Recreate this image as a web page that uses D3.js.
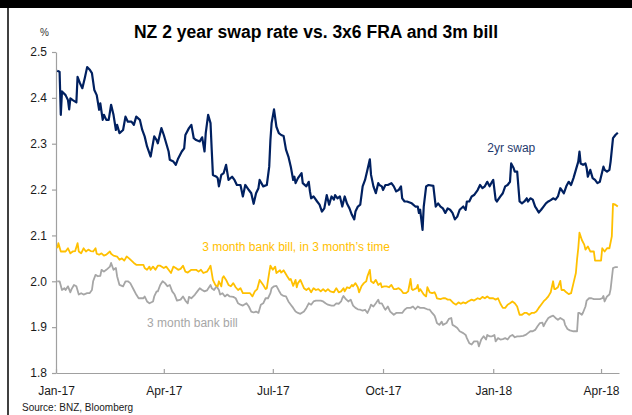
<!DOCTYPE html>
<html>
<head>
<meta charset="utf-8">
<script src="https://cdn.jsdelivr.net/npm/d3@7"></script>
<style>
  body { margin: 0; background: #fff; }
  svg { display: block; font-family: "Liberation Sans", Arial, sans-serif; }
</style>
</head>
<body>
<div id="chart"></div>
<script>
// 2 year swap rate
const swap = [
  ["2017-01-02",2.459],["2017-01-04",2.457],["2017-01-05",2.363],["2017-01-06",2.414],["2017-01-09",2.406],
  ["2017-01-11",2.395],["2017-01-12",2.375],["2017-01-13",2.399],["2017-01-15",2.395],["2017-01-18",2.390],
  ["2017-01-19",2.446],["2017-01-21",2.432],["2017-01-23",2.421],["2017-01-25",2.443],["2017-01-27",2.467],
  ["2017-01-29",2.462],["2017-01-31",2.454],["2017-02-02",2.417],["2017-02-04",2.406],["2017-02-06",2.374],
  ["2017-02-07",2.388],["2017-02-09",2.352],["2017-02-10",2.363],["2017-02-12",2.352],["2017-02-14",2.352],
  ["2017-02-16",2.385],["2017-02-18",2.363],["2017-02-20",2.330],["2017-02-21",2.341],["2017-02-23",2.323],
  ["2017-02-26",2.330],["2017-02-28",2.359],["2017-03-02",2.348],["2017-03-05",2.348],["2017-03-07",2.341],
  ["2017-03-09",2.359],["2017-03-12",2.352],["2017-03-14",2.330],["2017-03-16",2.316],["2017-03-18",2.294],
  ["2017-03-21",2.272],["2017-03-24",2.316],["2017-03-26",2.308],["2017-03-27",2.301],["2017-03-30",2.334],
  ["2017-04-01",2.319],["2017-04-03",2.301],["2017-04-05",2.283],["2017-04-06",2.265],["2017-04-09",2.261],
  ["2017-04-11",2.254],["2017-04-13",2.268],["2017-04-16",2.283],["2017-04-18",2.290],["2017-04-19",2.319],
  ["2017-04-22",2.334],["2017-04-24",2.341],["2017-04-26",2.312],["2017-04-28",2.308],["2017-05-01",2.305],
  ["2017-05-03",2.314],["2017-05-05",2.283],["2017-05-06",2.323],["2017-05-08",2.363],["2017-05-10",2.345],
  ["2017-05-11",2.287],["2017-05-12",2.232],["2017-05-15",2.228],["2017-05-16",2.225],["2017-05-17",2.207],
  ["2017-05-19",2.232],["2017-05-21",2.236],["2017-05-23",2.254],["2017-05-25",2.221],["2017-05-28",2.228],
  ["2017-05-30",2.221],["2017-06-01",2.210],["2017-06-04",2.210],["2017-06-06",2.185],["2017-06-08",2.210],
  ["2017-06-11",2.199],["2017-06-13",2.192],["2017-06-15",2.169],["2017-06-17",2.192],["2017-06-19",2.203],
  ["2017-06-20",2.221],["2017-06-23",2.207],["2017-06-26",2.210],["2017-06-28",2.250],["2017-06-29",2.308],
  ["2017-06-30",2.345],["2017-07-02",2.375],["2017-07-04",2.337],["2017-07-06",2.323],["2017-07-08",2.319],
  ["2017-07-10",2.317],["2017-07-12",2.287],["2017-07-14",2.272],["2017-07-16",2.250],["2017-07-18",2.221],
  ["2017-07-19",2.228],["2017-07-20",2.214],["2017-07-22",2.225],["2017-07-25",2.236],["2017-07-26",2.214],
  ["2017-07-29",2.207],["2017-07-31",2.217],["2017-08-01",2.196],["2017-08-02",2.181],["2017-08-04",2.185],
  ["2017-08-07",2.174],["2017-08-09",2.167],["2017-08-11",2.152],["2017-08-13",2.159],["2017-08-15",2.188],
  ["2017-08-17",2.167],["2017-08-19",2.185],["2017-08-21",2.178],["2017-08-22",2.188],["2017-08-24",2.181],
  ["2017-08-26",2.185],["2017-08-28",2.163],["2017-08-30",2.185],["2017-09-01",2.169],["2017-09-03",2.159],
  ["2017-09-05",2.145],["2017-09-07",2.135],["2017-09-08",2.152],["2017-09-10",2.163],["2017-09-12",2.167],
  ["2017-09-14",2.207],["2017-09-16",2.221],["2017-09-18",2.243],["2017-09-20",2.266],["2017-09-21",2.232],
  ["2017-09-23",2.207],["2017-09-25",2.192],["2017-09-27",2.214],["2017-09-28",2.210],["2017-09-30",2.207],
  ["2017-10-01",2.199],["2017-10-03",2.210],["2017-10-05",2.210],["2017-10-08",2.214],["2017-10-10",2.207],
  ["2017-10-12",2.196],["2017-10-14",2.199],["2017-10-16",2.207],["2017-10-17",2.181],["2017-10-19",2.174],
  ["2017-10-21",2.174],["2017-10-25",2.170],["2017-10-28",2.163],["2017-10-30",2.163],["2017-10-31",2.149],
  ["2017-11-01",2.156],["2017-11-03",2.112],["2017-11-04",2.163],["2017-11-06",2.207],["2017-11-08",2.210],
  ["2017-11-12",2.208],["2017-11-14",2.163],["2017-11-16",2.170],["2017-11-18",2.163],["2017-11-20",2.159],
  ["2017-11-22",2.149],["2017-11-24",2.159],["2017-11-26",2.156],["2017-11-28",2.149],["2017-11-30",2.135],
  ["2017-12-02",2.141],["2017-12-04",2.156],["2017-12-07",2.163],["2017-12-09",2.156],["2017-12-10",2.174],
  ["2017-12-12",2.174],["2017-12-14",2.185],["2017-12-16",2.188],["2017-12-19",2.199],["2017-12-21",2.210],
  ["2017-12-23",2.203],["2017-12-25",2.207],["2017-12-27",2.217],["2017-12-29",2.207],["2017-12-31",2.217],
  ["2018-01-01",2.221],["2018-01-03",2.178],["2018-01-04",2.174],["2018-01-07",2.185],["2018-01-09",2.192],
  ["2018-01-11",2.207],["2018-01-13",2.210],["2018-01-15",2.217],["2018-01-16",2.257],["2018-01-18",2.247],
  ["2018-01-19",2.239],["2018-01-21",2.239],["2018-01-23",2.174],["2018-01-25",2.170],["2018-01-27",2.174],
  ["2018-01-29",2.181],["2018-01-30",2.174],["2018-02-01",2.181],["2018-02-03",2.178],["2018-02-05",2.163],
  ["2018-02-06",2.159],["2018-02-08",2.150],["2018-02-10",2.156],["2018-02-12",2.163],["2018-02-14",2.170],
  ["2018-02-16",2.174],["2018-02-18",2.177],["2018-02-20",2.181],["2018-02-22",2.178],["2018-02-24",2.185],
  ["2018-02-26",2.203],["2018-03-01",2.192],["2018-03-03",2.207],["2018-03-05",2.217],["2018-03-07",2.210],
  ["2018-03-09",2.225],["2018-03-11",2.243],["2018-03-13",2.261],["2018-03-14",2.283],["2018-03-15",2.257],
  ["2018-03-17",2.254],["2018-03-19",2.257],["2018-03-20",2.247],["2018-03-21",2.228],["2018-03-23",2.243],
  ["2018-03-25",2.225],["2018-03-27",2.221],["2018-03-29",2.214],["2018-03-31",2.217],["2018-04-02",2.239],
  ["2018-04-03",2.250],["2018-04-04",2.243],["2018-04-06",2.239],["2018-04-08",2.243],["2018-04-09",2.261],
  ["2018-04-11",2.312],["2018-04-13",2.319],["2018-04-15",2.324]
];

// 3 month bank bill, in 3 month's time (3x6 FRA)
const fra = [
  ["2017-01-02",2.072],["2017-01-03",2.083],["2017-01-05",2.065],["2017-01-07",2.065],["2017-01-09",2.065],
  ["2017-01-11",2.072],["2017-01-13",2.061],["2017-01-15",2.065],["2017-01-17",2.066],["2017-01-19",2.083],
  ["2017-01-20",2.065],["2017-01-22",2.061],["2017-01-24",2.072],["2017-01-26",2.065],["2017-01-28",2.069],
  ["2017-01-30",2.066],["2017-02-01",2.065],["2017-02-03",2.072],["2017-02-04",2.060],["2017-02-06",2.058],
  ["2017-02-08",2.061],["2017-02-10",2.056],["2017-02-12",2.058],["2017-02-15",2.065],["2017-02-16",2.060],
  ["2017-02-18",2.056],["2017-02-21",2.054],["2017-02-23",2.047],["2017-02-25",2.050],["2017-02-27",2.045],
  ["2017-03-01",2.054],["2017-03-03",2.050],["2017-03-05",2.045],["2017-03-07",2.040],["2017-03-09",2.036],
  ["2017-03-12",2.036],["2017-03-15",2.036],["2017-03-16",2.029],["2017-03-18",2.025],["2017-03-20",2.032],
  ["2017-03-21",2.025],["2017-03-23",2.032],["2017-03-25",2.025],["2017-03-27",2.034],["2017-03-29",2.034],
  ["2017-04-01",2.029],["2017-04-03",2.032],["2017-04-05",2.025],["2017-04-07",2.018],["2017-04-09",2.032],
  ["2017-04-11",2.029],["2017-04-13",2.025],["2017-04-15",2.027],["2017-04-17",2.034],["2017-04-19",2.021],
  ["2017-04-21",2.019],["2017-04-24",2.025],["2017-04-26",2.025],["2017-04-28",2.025],["2017-04-30",2.021],
  ["2017-05-02",2.025],["2017-05-04",2.018],["2017-05-07",2.021],["2017-05-09",2.029],["2017-05-10",2.034],
  ["2017-05-12",2.003],["2017-05-14",1.992],["2017-05-16",1.989],["2017-05-17",2.000],["2017-05-19",1.989],
  ["2017-05-20",2.007],["2017-05-21",2.011],["2017-05-23",2.003],["2017-05-25",1.992],["2017-05-27",1.989],
  ["2017-05-29",1.996],["2017-05-31",1.987],["2017-06-02",1.981],["2017-06-04",1.985],["2017-06-06",1.974],
  ["2017-06-09",1.974],["2017-06-12",1.974],["2017-06-14",1.967],["2017-06-16",1.978],["2017-06-18",1.983],
  ["2017-06-20",2.003],["2017-06-23",1.992],["2017-06-25",1.983],["2017-06-26",1.985],["2017-06-28",2.019],
  ["2017-06-29",2.034],["2017-07-01",2.025],["2017-07-03",2.032],["2017-07-04",2.018],["2017-07-07",2.024],
  ["2017-07-08",2.019],["2017-07-10",2.024],["2017-07-13",2.011],["2017-07-15",2.003],["2017-07-16",2.005],
  ["2017-07-18",1.990],["2017-07-20",2.003],["2017-07-21",1.987],["2017-07-22",1.996],["2017-07-24",2.003],
  ["2017-07-27",1.985],["2017-07-29",1.981],["2017-07-31",1.985],["2017-08-02",1.976],["2017-08-04",1.985],
  ["2017-08-06",1.981],["2017-08-08",1.983],["2017-08-10",1.978],["2017-08-12",1.983],["2017-08-14",1.978],
  ["2017-08-16",1.983],["2017-08-18",1.978],["2017-08-21",1.976],["2017-08-23",1.985],["2017-08-25",1.976],
  ["2017-08-27",1.978],["2017-08-29",1.985],["2017-08-30",1.978],["2017-09-01",1.987],["2017-09-03",1.985],
  ["2017-09-05",1.992],["2017-09-06",1.989],["2017-09-08",1.996],["2017-09-10",1.987],["2017-09-11",1.976],
  ["2017-09-13",1.989],["2017-09-15",1.996],["2017-09-17",2.000],["2017-09-18",2.011],["2017-09-20",2.025],
  ["2017-09-21",2.000],["2017-09-23",1.996],["2017-09-25",2.003],["2017-09-27",1.992],["2017-09-29",1.996],
  ["2017-09-30",1.987],["2017-10-02",1.989],["2017-10-04",1.989],["2017-10-06",1.987],["2017-10-08",1.992],
  ["2017-10-10",1.983],["2017-10-12",1.983],["2017-10-14",1.985],["2017-10-16",1.981],["2017-10-18",1.974],
  ["2017-10-20",1.974],["2017-10-22",1.978],["2017-10-24",2.005],["2017-10-25",1.983],["2017-10-26",1.981],
  ["2017-10-29",1.985],["2017-10-30",1.992],["2017-10-31",1.978],["2017-11-01",1.983],["2017-11-04",1.971],
  ["2017-11-06",1.967],["2017-11-07",1.987],["2017-11-09",1.976],["2017-11-11",1.974],["2017-11-13",1.976],
  ["2017-11-14",1.971],["2017-11-15",1.963],["2017-11-18",1.961],["2017-11-20",1.963],["2017-11-22",1.963],
  ["2017-11-24",1.960],["2017-11-26",1.960],["2017-11-29",1.952],["2017-12-01",1.949],["2017-12-03",1.954],
  ["2017-12-05",1.951],["2017-12-07",1.954],["2017-12-09",1.952],["2017-12-11",1.956],["2017-12-14",1.960],
  ["2017-12-16",1.958],["2017-12-19",1.963],["2017-12-21",1.961],["2017-12-23",1.966],["2017-12-25",1.963],
  ["2017-12-27",1.967],["2017-12-29",1.963],["2018-01-01",1.963],["2018-01-03",1.960],["2018-01-05",1.963],
  ["2018-01-07",1.951],["2018-01-09",1.942],["2018-01-11",1.942],["2018-01-13",1.949],["2018-01-15",1.952],
  ["2018-01-17",1.956],["2018-01-19",1.952],["2018-01-21",1.945],["2018-01-23",1.927],["2018-01-25",1.927],
  ["2018-01-27",1.931],["2018-01-29",1.931],["2018-01-31",1.927],["2018-02-02",1.931],["2018-02-04",1.931],
  ["2018-02-06",1.934],["2018-02-08",1.942],["2018-02-10",1.949],["2018-02-12",1.956],["2018-02-14",1.961],
  ["2018-02-16",1.967],["2018-02-18",1.976],["2018-02-20",2.000],["2018-02-21",1.983],["2018-02-22",1.983],
  ["2018-02-24",1.987],["2018-02-26",2.001],["2018-02-27",1.981],["2018-03-01",1.981],["2018-03-03",1.976],
  ["2018-03-05",1.972],["2018-03-07",1.974],["2018-03-09",1.996],["2018-03-11",2.018],["2018-03-12",2.048],
  ["2018-03-13",2.072],["2018-03-14",2.106],["2018-03-16",2.090],["2018-03-18",2.080],["2018-03-19",2.069],
  ["2018-03-21",2.076],["2018-03-23",2.065],["2018-03-26",2.065],["2018-03-27",2.045],["2018-03-30",2.045],
  ["2018-04-01",2.045],["2018-04-02",2.072],["2018-04-04",2.065],["2018-04-06",2.072],["2018-04-08",2.072],
  ["2018-04-10",2.098],["2018-04-11",2.169],["2018-04-13",2.167],["2018-04-15",2.163]
];

// 3 month bank bill
const bill = [
  ["2017-01-02",2.000],["2017-01-04",2.000],["2017-01-06",1.981],["2017-01-08",1.985],["2017-01-09",1.981],
  ["2017-01-11",1.989],["2017-01-13",1.976],["2017-01-14",1.983],["2017-01-16",1.992],["2017-01-18",1.989],
  ["2017-01-20",1.971],["2017-01-22",1.974],["2017-01-24",1.971],["2017-01-27",1.974],["2017-01-29",1.974],
  ["2017-01-31",1.981],["2017-02-01",2.000],["2017-02-03",2.014],["2017-02-05",2.011],["2017-02-07",2.012],
  ["2017-02-08",2.025],["2017-02-10",2.021],["2017-02-12",2.025],["2017-02-15",2.032],["2017-02-16",2.040],
  ["2017-02-18",2.025],["2017-02-20",2.029],["2017-02-21",2.011],["2017-02-23",1.992],["2017-02-26",1.989],
  ["2017-02-28",2.000],["2017-03-02",2.000],["2017-03-04",1.996],["2017-03-07",1.981],["2017-03-09",1.971],
  ["2017-03-11",1.963],["2017-03-13",1.963],["2017-03-15",1.963],["2017-03-16",1.967],["2017-03-18",1.956],
  ["2017-03-20",1.952],["2017-03-23",1.956],["2017-03-24",1.967],["2017-03-26",1.978],["2017-03-27",1.978],
  ["2017-03-29",1.992],["2017-03-31",2.000],["2017-04-02",1.996],["2017-04-04",1.989],["2017-04-06",1.992],
  ["2017-04-08",1.978],["2017-04-10",1.971],["2017-04-12",1.958],["2017-04-15",1.960],["2017-04-17",1.967],
  ["2017-04-19",1.958],["2017-04-21",1.952],["2017-04-22",1.966],["2017-04-24",1.963],["2017-04-26",1.968],
  ["2017-04-27",1.971],["2017-04-29",1.978],["2017-05-01",1.985],["2017-05-03",1.981],["2017-05-05",1.978],
  ["2017-05-07",1.980],["2017-05-10",1.992],["2017-05-11",1.985],["2017-05-13",1.981],["2017-05-15",1.989],
  ["2017-05-17",1.981],["2017-05-18",1.971],["2017-05-20",1.974],["2017-05-22",1.967],["2017-05-24",1.971],
  ["2017-05-26",1.967],["2017-05-29",1.966],["2017-05-31",1.963],["2017-06-02",1.952],["2017-06-04",1.949],
  ["2017-06-06",1.947],["2017-06-09",1.952],["2017-06-11",1.945],["2017-06-13",1.934],["2017-06-15",1.932],
  ["2017-06-17",1.934],["2017-06-19",1.931],["2017-06-21",1.949],["2017-06-23",1.952],["2017-06-25",1.963],
  ["2017-06-27",1.963],["2017-06-29",1.974],["2017-06-30",1.985],["2017-07-02",1.989],["2017-07-04",1.990],
  ["2017-07-06",1.980],["2017-07-08",1.971],["2017-07-10",1.968],["2017-07-12",1.967],["2017-07-14",1.956],
  ["2017-07-16",1.949],["2017-07-18",1.942],["2017-07-20",1.934],["2017-07-22",1.931],["2017-07-24",1.929],
  ["2017-07-27",1.934],["2017-07-29",1.942],["2017-07-31",1.952],["2017-08-02",1.949],["2017-08-04",1.956],
  ["2017-08-06",1.958],["2017-08-08",1.958],["2017-08-10",1.958],["2017-08-12",1.956],["2017-08-14",1.952],
  ["2017-08-16",1.949],["2017-08-19",1.947],["2017-08-21",1.947],["2017-08-23",1.952],["2017-08-25",1.951],
  ["2017-08-27",1.956],["2017-08-28",1.963],["2017-08-29",1.968],["2017-08-31",1.961],["2017-09-02",1.956],
  ["2017-09-04",1.960],["2017-09-06",1.947],["2017-09-08",1.942],["2017-09-10",1.939],["2017-09-12",1.938],
  ["2017-09-14",1.936],["2017-09-16",1.938],["2017-09-18",1.931],["2017-09-20",1.942],["2017-09-21",1.949],
  ["2017-09-23",1.945],["2017-09-25",1.952],["2017-09-27",1.960],["2017-09-28",1.952],["2017-09-30",1.952],
  ["2017-10-02",1.942],["2017-10-03",1.938],["2017-10-05",1.945],["2017-10-07",1.934],["2017-10-10",1.927],
  ["2017-10-12",1.931],["2017-10-14",1.931],["2017-10-17",1.931],["2017-10-19",1.938],["2017-10-21",1.942],
  ["2017-10-24",1.942],["2017-10-26",1.945],["2017-10-28",1.939],["2017-10-30",1.945],["2017-11-01",1.942],
  ["2017-11-04",1.942],["2017-11-07",1.939],["2017-11-09",1.938],["2017-11-11",1.931],["2017-11-13",1.925],
  ["2017-11-14",1.918],["2017-11-15",1.909],["2017-11-17",1.905],["2017-11-19",1.912],["2017-11-20",1.905],
  ["2017-11-23",1.909],["2017-11-25",1.918],["2017-11-27",1.920],["2017-11-28",1.905],["2017-11-30",1.902],
  ["2017-12-02",1.898],["2017-12-04",1.891],["2017-12-07",1.887],["2017-12-09",1.883],["2017-12-10",1.876],
  ["2017-12-12",1.865],["2017-12-14",1.862],["2017-12-16",1.869],["2017-12-19",1.869],["2017-12-20",1.858],
  ["2017-12-22",1.873],["2017-12-24",1.880],["2017-12-26",1.873],["2017-12-27",1.883],["2017-12-29",1.880],
  ["2017-12-31",1.880],["2018-01-02",1.883],["2018-01-03",1.869],["2018-01-05",1.876],["2018-01-07",1.873],
  ["2018-01-09",1.874],["2018-01-11",1.876],["2018-01-13",1.873],["2018-01-15",1.880],["2018-01-17",1.883],
  ["2018-01-19",1.878],["2018-01-21",1.880],["2018-01-23",1.880],["2018-01-26",1.881],["2018-01-28",1.883],
  ["2018-01-30",1.887],["2018-02-01",1.891],["2018-02-03",1.891],["2018-02-05",1.894],["2018-02-07",1.902],
  ["2018-02-09",1.909],["2018-02-11",1.910],["2018-02-12",1.902],["2018-02-14",1.912],["2018-02-16",1.920],
  ["2018-02-18",1.923],["2018-02-20",1.925],["2018-02-22",1.920],["2018-02-24",1.916],["2018-02-26",1.920],
  ["2018-03-01",1.915],["2018-03-02",1.905],["2018-03-04",1.896],["2018-03-06",1.893],["2018-03-09",1.891],
  ["2018-03-12",1.891],["2018-03-13",1.931],["2018-03-14",1.931],["2018-03-16",1.927],["2018-03-17",1.932],
  ["2018-03-19",1.945],["2018-03-20",1.958],["2018-03-22",1.963],["2018-03-24",1.963],["2018-03-26",1.961],
  ["2018-03-28",1.961],["2018-03-31",1.961],["2018-04-02",1.963],["2018-04-03",1.968],["2018-04-04",1.956],
  ["2018-04-06",1.967],["2018-04-08",1.971],["2018-04-09",1.983],["2018-04-11",2.029],["2018-04-13",2.031],
  ["2018-04-15",2.031]
];

const xTickDates = ["2017-01-01", "2017-04-01", "2017-07-01", "2017-10-01", "2018-01-01", "2018-04-01"];
const yTicks = [1.8, 1.9, 2.0, 2.1, 2.2, 2.3, 2.4, 2.5];
const xDomain = ["2017-01-01", "2018-04-16"];
const yDomain = [1.8, 2.5];

const parse = d3.timeParse("%Y-%m-%d");

const width = 632, height = 415;
const margin = { top: 52, right: 13, bottom: 42, left: 56 };

const svg = d3.select("#chart")
  .append("svg")
  .attr("width", width)
  .attr("height", height);

// frame: black band on top and a line down the left side
svg.append("rect").attr("x", 0).attr("y", 0).attr("width", width).attr("height", 8).attr("fill", "#000");
svg.append("line").attr("x1", 8).attr("x2", 8).attr("y1", 8).attr("y2", height)
  .attr("stroke", "#000").attr("stroke-width", 1.5);

const x = d3.scaleTime()
  .domain(xDomain.map(parse))
  .range([margin.left, width - margin.right]);

const y = d3.scaleLinear()
  .domain(yDomain)
  .range([height - margin.bottom, margin.top]);

// y axis
const yAxis = svg.append("g")
  .attr("transform", `translate(${margin.left},0)`)
  .call(d3.axisLeft(y).tickValues(yTicks).tickFormat(d3.format(".1f")).tickSizeInner(4).tickSizeOuter(0).tickPadding(5));

// x axis, ticks pointing up
const xAxis = svg.append("g")
  .attr("transform", `translate(0,${y(1.8)})`)
  .call(d3.axisBottom(x).tickValues(xTickDates.map(parse)).tickFormat(d3.timeFormat("%b-%y")).tickSizeInner(-4).tickSizeOuter(0).tickPadding(13));

[yAxis, xAxis].forEach(g => {
  g.select(".domain").attr("stroke", "#a0a0a0").attr("stroke-width", 1.2);
  g.selectAll(".tick line").attr("stroke", "#a0a0a0").attr("stroke-width", 1.2);
  g.selectAll(".tick text").attr("fill", "#1a1a1a").style("font-size", "12px")
    .style("font-family", "'Liberation Sans', Arial, sans-serif");
});

const line = d3.line()
  .x(d => x(parse(d[0])))
  .y(d => y(d[1]));

const series = [
  { name: "bill", data: bill, color: "#a6a6a6", w: 1.8 },
  { name: "fra", data: fra, color: "#ffc000", w: 1.8 },
  { name: "swap", data: swap, color: "#002060", w: 2.2 }
];

svg.selectAll(".series")
  .data(series)
  .enter()
  .append("path")
  .attr("class", "series")
  .attr("d", d => line(d.data))
  .attr("fill", "none")
  .attr("stroke", d => d.color)
  .attr("stroke-width", d => d.w)
  .attr("stroke-linejoin", "round");

// series labels
const labels = [
  { text: "2yr swap", date: "2017-12-27", value: 2.283, color: "#1f3a6e" },
  { text: "3 month bank bill, in 3 month\u2019s time", date: "2017-05-03", value: 2.066, color: "#ffc000" },
  { text: "3 month bank bill", date: "2017-03-18", value: 1.901, color: "#a6a6a6" }
];

svg.selectAll(".label")
  .data(labels)
  .enter()
  .append("text")
  .attr("class", "label")
  .attr("x", d => x(parse(d.date)))
  .attr("y", d => y(d.value))
  .attr("fill", d => d.color)
  .style("font-size", "12px")
  .text(d => d.text);

// title
svg.append("text")
  .attr("x", 316)
  .attr("y", 38)
  .attr("text-anchor", "middle")
  .style("font-size", "17.5px")
  .style("font-weight", "bold")
  .attr("fill", "#000")
  .text("NZ 2 year swap rate vs. 3x6 FRA and 3m bill");

// unit label
svg.append("text")
  .attr("x", 40)
  .attr("y", 36)
  .style("font-size", "10px")
  .attr("fill", "#333")
  .text("%");

// source
svg.append("text")
  .attr("x", 22)
  .attr("y", 411)
  .style("font-size", "10px")
  .attr("fill", "#1a1a1a")
  .text("Source: BNZ, Bloomberg");
</script>
</body>
</html>
